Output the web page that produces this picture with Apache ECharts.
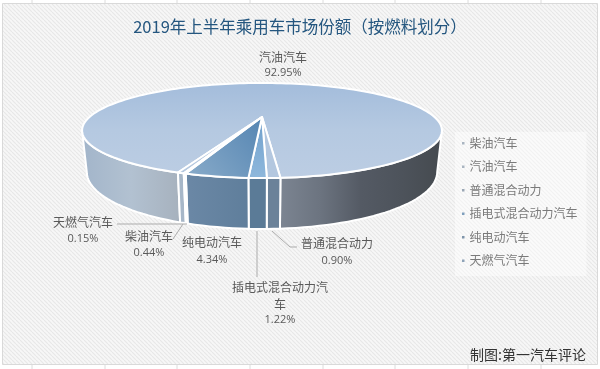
<!DOCTYPE html>
<html><head><meta charset="utf-8">
<style>html,body{margin:0;padding:0;background:#fff}#c{width:600px;height:369px}</style>
<script src="https://cdn.jsdelivr.net/npm/echarts@6/dist/echarts.min.js"></script>
</head><body><div id="c"></div>
<script>
const categories = ['柴油汽车','汽油汽车','普通混合动力','插电式混合动力汽车','纯电动汽车','天燃气汽车'];
const shares = [0.44,92.95,0.90,1.22,4.34,0.15];
const titleText = '2019年上半年乘用车市场份额（按燃料划分）';
const creditText = '制图:第一汽车评论';

const FONT = '"Noto Sans CJK SC","Noto Sans",sans-serif';
const NUMFONT = '"Open Sans","Noto Sans",sans-serif';
const startAngle = 19.4;
const total = shares.reduce((a,b)=>a+b,0);
// projected disc
const cam = {cx:262, k:0.284, widest:73.5, top:{R:172.5,y:117,b:43.7}, bot:{R:168,y:155.8,b:52.4}};
function pt(plane, deg){
  const a = deg*Math.PI/180, u=-Math.sin(a), v=Math.cos(a), w=1-cam.k*v;
  return [cam.cx+plane.R*u/w, plane.y+plane.b*v/w];
}
function rim(plane,a0,a1){
  const n=Math.max(2,Math.ceil(Math.abs(a1-a0)/2)), out=[];
  for(let i=0;i<=n;i++) out.push(pt(plane,a0+(a1-a0)*i/n));
  return out;
}
const grad=(x0,y0,x1,y1,stops)=>new echarts.graphic.LinearGradient(x0,y0,x1,y1,stops.map((c,i)=>({offset:i/(stops.length-1),color:c})));
const topFill = [
  ()=>'#b5c8df',
  ()=>grad(0,0,0,1,['#a3bcdb','#b5c9e1','#bccde3']),
  ()=>'#b3c7df',
  ()=>grad(0,0,0,1,['#6f9fcb','#8fb8dc']),
  ()=>grad(1,0,0,1,['#5585b2','#8aacca']),
  ()=>'#b5c8df'
];
const wallFill = [
  [()=>'#a7b7c8'],
  [()=>grad(0,0,1,0,['#a2b5ca','#b2c1d1','#a6b1bd']), ()=>grad(0,0,1,0,['#7c8592','#6c7480','#545a64','#4d535b','#454a4f'])],
  [()=>'#6b8299'],
  [()=>'#5b7b97'],
  [()=>grad(0,0,1,0,['#6b88a6','#5f7e9b'])],
  [()=>'#8ea3b8']
];
const labelSpec = [
  {at:[149,236], pct:253, line:[[173,239],[183,224]]},
  {at:[283,57],  pct:73},
  {at:[337,243], pct:261, line:[[272,231],[290,247],[297,247]]},
  {at:[280,287], pct:320, wrap:8, line:[[257,231],[257,277]]},
  {at:[212,242], pct:260},
  {at:[83,222],  pct:239, line:[[117,224],[187,224]]}
];
function sliceRange(i){
  let a=startAngle; for(let j=0;j<i;j++) a+=shares[j]/total*360;
  return [a,a+shares[i]/total*360];
}
function renderSlice(params,api){
  const i=params.seriesIndex, val=api.value(0), r=sliceRange(i), a0=r[0], a1=r[1];
  const kids=[], stroke={stroke:'#fff',lineWidth:2,lineJoin:'round'};
  // visible wall spans
  const spans=[];
  const clipFront=(s,e)=>{const lo=Math.max(s,-cam.widest),hi=Math.min(e,cam.widest); if(hi>lo) spans.push([lo,hi]);};
  clipFront(a0,a1); clipFront(a0-360,a1-360);
  spans.sort((p,q)=>q[0]-p[0]);
  spans.forEach((s,idx)=>{
    const poly=rim(cam.top,s[0],s[1]).concat(rim(cam.bot,s[1],s[0]));
    const f=wallFill[i][Math.min(idx,wallFill[i].length-1)]();
    kids.push({type:'polygon',shape:{points:poly},style:Object.assign({fill:f},stroke)});
  });
  // top face
  const pts=[[cam.cx,cam.top.y]].concat(rim(cam.top,a0,a1));
  kids.push({type:'polygon',shape:{points:pts},style:Object.assign({fill:topFill[i]()},stroke)});
  // label
  const s=labelSpec[i], name=categories[i];
  const base={align:'center',verticalAlign:'middle',fontFamily:FONT,fontSize:12,fill:'#595959'};
  if(s.wrap){
    kids.push({type:'text',style:Object.assign({},base,{x:s.at[0],y:s.at[1],text:name.slice(0,s.wrap)})});
    kids.push({type:'text',style:Object.assign({},base,{x:s.at[0],y:s.at[1]+17,text:name.slice(s.wrap)})});
  } else kids.push({type:'text',style:Object.assign({},base,{x:s.at[0],y:s.at[1],text:name})});
  kids.push({type:'text',style:Object.assign({},base,{x:s.at[0],y:s.pct,text:val.toFixed(2)+'%',fontFamily:NUMFONT,fontSize:11})});
  if(s.line) kids.push({type:'polyline',shape:{points:s.line},style:{stroke:'#ababab',lineWidth:1,fill:null}});
  return {type:'group',children:kids};
}
const pat=document.createElement('canvas'); pat.width=pat.height=4;
(function(){const c=pat.getContext('2d');c.fillStyle='#f7f7f7';c.fillRect(0,0,4,4);c.strokeStyle='#e7e7e7';c.lineWidth=1.1;
 for(let o=-4;o<=4;o+=4){c.beginPath();c.moveTo(o,0);c.lineTo(o+4,4);c.stroke();}})();
const gridXs=[32,105,177,250,323,395,468,541];
const gridLines=gridXs.map(x=>({type:'line',z:-3,shape:{x1:x,y1:0,x2:x,y2:369},style:{stroke:'#dcdcdc',lineWidth:1}}));
const chart=echarts.init(document.getElementById('c'),null,{renderer:'canvas'});
chart.setOption({
  animation:false,
  backgroundColor:'#fff',
  title:{text:titleText,left:'center',top:13,textStyle:{fontFamily:FONT,fontSize:16.5,fontWeight:'normal',color:'#24567f'}},
  legend:{orient:'vertical',left:455,top:132,padding:[3,9,7,7],itemWidth:2.5,itemHeight:2.5,itemGap:7,selectedMode:false,
    backgroundColor:'rgba(255,255,255,0.45)',icon:'rect',
    data:categories,textStyle:{fontFamily:FONT,fontSize:12,color:'#7a7a7a',lineHeight:16.5},itemStyle:{borderWidth:0}},
  graphic:gridLines.concat([
    {type:'rect',z:-2,shape:{x:2.5,y:3.5,width:595,height:361},style:{fill:{image:pat,repeat:'repeat'},stroke:'#d9d9d9',lineWidth:1}},
    {type:'text',z:5,style:{x:470,y:355,text:creditText,verticalAlign:'middle',fontFamily:FONT,fontSize:14,fill:'#333'}}
  ]),
  series:categories.map((name,i)=>({
    type:'custom',name,coordinateSystem:'none',silent:true,
    itemStyle:{color:['#a9b4c0','#a9b4c0','#9aa7b5','#7f9fbd','#7f95ab','#8ea3b8'][i]},
    renderItem:renderSlice,data:[[shares[i]]],z:i===1?1:2
  }))
});
</script></body></html>
